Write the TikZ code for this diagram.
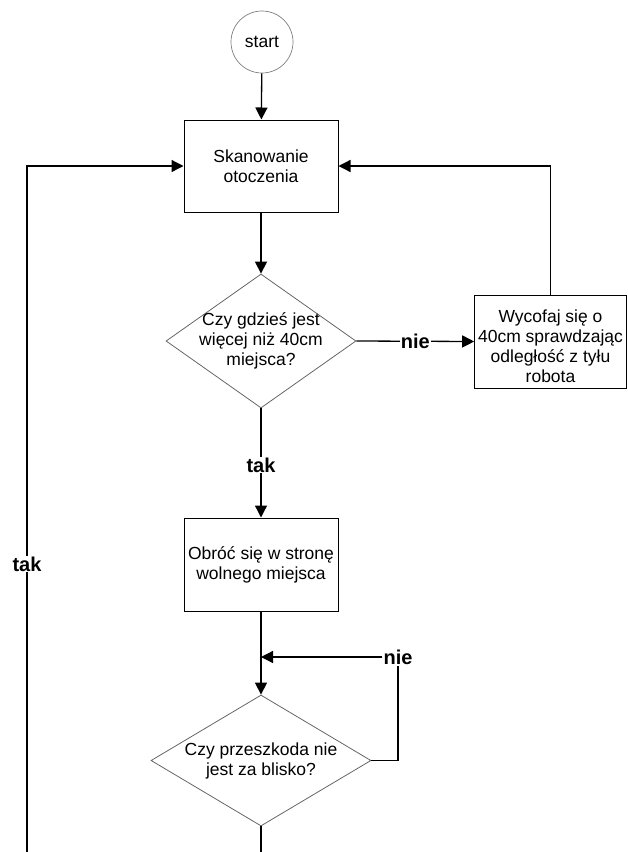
\documentclass[tikz,border=0pt]{standalone}
\usepackage{fontspec}
\setmainfont{Liberation Sans}
\usetikzlibrary{shapes.geometric,arrows.meta}

\tikzset{
  okrag/.style={circle, draw=black!50, line width=0.7pt, minimum size=62pt, inner sep=0pt, font=\fontsize{17.5}{20}\selectfont},
  blok/.style={draw, line width=1pt, minimum width=154pt, minimum height=92pt, align=center, font=\fontsize{17.5}{20}\selectfont},
  decyzja/.style={diamond, draw=black!60, line width=0.8pt, inner sep=-8pt, align=center, font=\fontsize{17.5}{20}\selectfont},
  polaczenie/.style={line width=1.3pt, -{Triangle[length=12pt,width=12pt]}},
  linia/.style={line width=1.3pt},
  etykieta/.style={fill=white, inner sep=1pt, font=\fontsize{20}{24}\selectfont\bfseries}
}

\begin{document}
\begin{tikzpicture}[x=1pt, y=-1pt]
    \useasboundingbox (0,0) rectangle (627,852);

    % Bloki
    \node[okrag] (start) at (262,42) {start};
    \node[blok] (skan) at (261,166) {Skanowanie\\otoczenia};
    \node[decyzja, minimum width=190pt, minimum height=134pt, shape aspect=1.42] (czy1) at (261,341)
        {Czy gdzieś jest\\więcej niż 40cm\\miejsca?};
    \node[blok, minimum width=151pt, minimum height=93pt] (cofaj) at (550.5,341.5)
        {\rule{0pt}{22pt}Wycofaj się o\\40cm sprawdzając\\odległość z tyłu\\robota};
    \node[blok, minimum height=93pt] (obrot) at (261,564.5) {Obróć się w stronę\\wolnego miejsca};
    \node[decyzja, minimum width=220pt, minimum height=131pt, shape aspect=1.68] (czy2) at (261,760.5)
        {Czy przeszkoda nie\\jest za blisko?};

    % Punkty pomocnicze
    \coordinate (dol) at (261,852);
    \coordinate (lewy) at (27,852);
    \coordinate (scal) at (261,657);
    \node[etykieta] (nie2) at (398,657) {nie};

    % Polaczenia
    \draw[polaczenie] (start) -- (skan);
    \draw[polaczenie] (skan) -- (czy1);
    \draw[polaczenie] (czy1.east) -- node[etykieta] (nie1) {nie} (cofaj.west);
    \draw[polaczenie] (cofaj.north) |- (skan.east);
    \draw[polaczenie] (czy1.south) -- node[etykieta, pos=0.52] (tak1) {tak} (obrot.north);
    \draw[polaczenie] (obrot.south) -- (czy2.north);
    \draw[linia] (czy2.east) -| (nie2.south);
    \draw[polaczenie] (nie2.west) -- (scal);
    \draw[linia] (czy2.south) -- (dol);
    \draw[polaczenie] (lewy) |- node[etykieta, pos=0.21] (tak2) {tak} (skan.west);
  \end{tikzpicture}
\end{document}
